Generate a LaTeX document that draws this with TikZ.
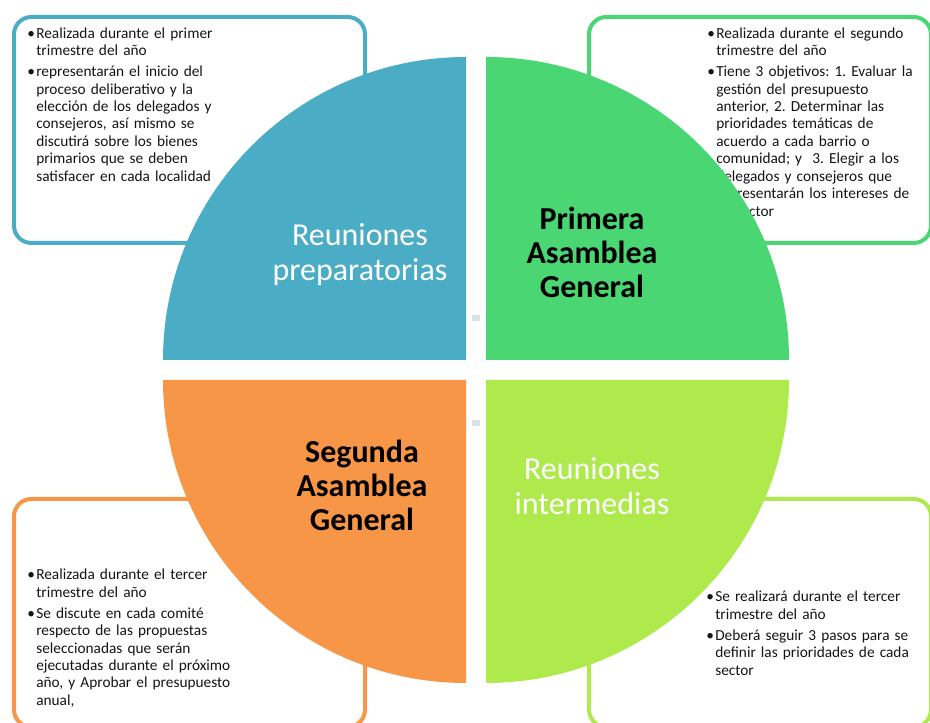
\documentclass[tikz,border=0pt]{standalone}
\usepackage{fontspec}
\setmainfont{Carlito}
\definecolor{qblue}{RGB}{75,172,198}
\definecolor{qgreen}{RGB}{74,214,115}
\definecolor{qorange}{RGB}{247,150,70}
\definecolor{qlime}{RGB}{174,234,76}
\definecolor{qmark}{RGB}{213,227,234}
\newcommand{\bitem}[1]{\par\noindent\llap{\makebox[6.75pt][l]{\textbullet}}#1\par}
\newcommand{\bstart}{\leftskip=6.75pt\relax}
\tikzset{
  infobox/.style={line width=3pt, rounded corners=13pt},
  infotext/.style={anchor=north west, inner sep=0pt, text width=230pt, align=left,
    font=\fontsize{11.5}{13.1}\selectfont\frenchspacing\setlength{\parskip}{2.6pt}, text=black!92},
  qlabel/.style={align=center, inner sep=0pt, font=\fontsize{24}{25.5}\selectfont},
  qmarkbox/.style={fill=qmark},
}
\begin{document}
\begin{tikzpicture}[x=0.75pt,y=0.75pt]
\useasboundingbox (0,0) rectangle (930,723);
\clip (0,0) rectangle (930,723);
% boxes
\draw[infobox,qblue] (14,706) rectangle (365,480);
\draw[infobox,qgreen] (589,706) rectangle (931,480);
\draw[infobox,qorange] (14,224) rectangle (365,-4);
\draw[infobox,qlime] (589,224) rectangle (931,-4);
% box texts
\node[infotext] (tltext) at (27,706) {\bstart\bitem{Realizada durante el primer\newline trimestre del año}\bitem{representarán el inicio del\newline proceso deliberativo y la\newline elección de los delegados y\newline consejeros, así mismo se\newline discutirá sobre los bienes\newline primarios que se deben\newline satisfacer en cada localidad}};
\node[infotext] (trtext) at (707,706) {\bstart\bitem{Realizada durante el segundo\newline trimestre del año}\bitem{Tiene 3 objetivos: 1. Evaluar la\newline gestión del presupuesto\newline anterior, 2. Determinar las\newline prioridades temáticas de\newline acuerdo a cada barrio o\newline comunidad; y~ 3. Elegir a los\newline delegados y consejeros que\newline representarán los intereses de\newline su sector}};
\node[infotext] (bltext) at (27,164.5) {\bstart\bitem{Realizada durante el tercer\newline trimestre del año}\bitem{Se discute en cada comité\newline respecto de las propuestas\newline seleccionadas que serán\newline ejecutadas durante el próximo\newline año, y Aprobar el presupuesto\newline anual,}};
\node[infotext] (brtext) at (706,142.5) {\bstart\bitem{Se realizará durante el tercer\newline trimestre del año}\bitem{Deberá seguir 3 pasos para se\newline definir las prioridades de cada\newline sector}};
% quadrants
\fill[qblue] (466,363) -- (163,363) arc[start angle=180,end angle=90,radius=227.25pt] -- cycle;
\fill[qgreen] (486,363) -- (486,666) arc[start angle=90,end angle=0,radius=227.25pt] -- cycle;
\fill[qorange] (466,343) -- (466,40) arc[start angle=270,end angle=180,radius=227.25pt] -- cycle;
\fill[qlime] (486,343) -- (789,343) arc[start angle=0,end angle=-90,radius=227.25pt] -- cycle;
% small marks
\fill[qmarkbox] (472,402) rectangle (480,408);
\fill[qmarkbox] (472,297) rectangle (480,303);
% labels
\node[qlabel,text=white,font=\fontsize{24}{26}\selectfont] (lab1) at (360,468.5) {Reuniones\\preparatorias};
\node[qlabel,font=\fontsize{24}{25.5}\selectfont\bfseries] (lab2) at (592,471) {Primera\\Asamblea\\General};
\node[qlabel,font=\fontsize{24}{25.5}\selectfont\bfseries] (lab3) at (362,238) {Segunda\\Asamblea\\General};
\node[qlabel,text=white,font=\fontsize{24}{26}\selectfont] (lab4) at (592,237) {Reuniones\\intermedias};
\end{tikzpicture}
\end{document}
